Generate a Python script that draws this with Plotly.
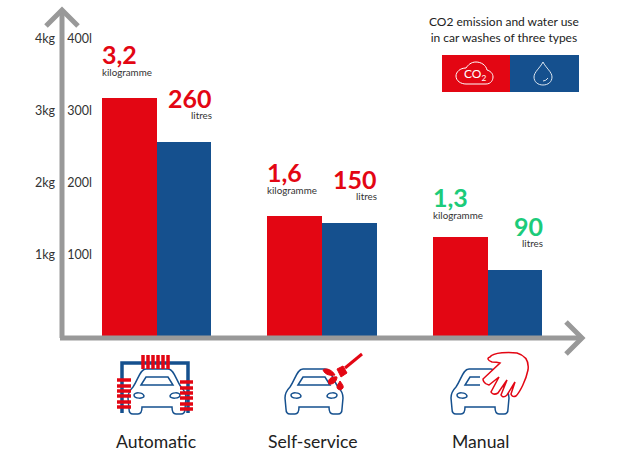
import re
import plotly.graph_objects as go

W, H = 617, 463

categories = ['Automatic', 'Self-service', 'Manual']
co2_values = [3.2, 1.62, 1.33]
water_values = [261, 152, 89]
co2_labels = ['3,2', '1,6', '1,3']
water_labels = ['260', '150', '90']
label_colors = ['#E30613', '#E30613', '#1CCB7A']

kg_tickvals = [1.09, 2.06, 3.03, 4.0]
kg_ticktext = ['1kg', '2kg', '3kg', '4kg']
l_tickvals = [109, 206, 303, 400]
l_ticktext = ['100l', '200l', '300l', '400l']

RED = '#E30613'
BLUE = '#15508E'
GREY = '#999999'
TEXT = '#333333'
FONT = 'Lato'

BAR = 0.332


def px_path(path):
    # icon paths are written in pixels of the picture, turn them into paper coords
    nums = iter(re.findall(r'-?\d+\.?\d*|[A-Za-z]', path))
    out = []
    for tok in nums:
        if tok.isalpha():
            out.append(tok)
        else:
            out.append('%.5f,%.5f' % (float(tok) / W, 1 - float(next(nums)) / H))
    return ' '.join(out)


def icon(path, color, width=1.5, fill=None):
    return dict(type='path', xref='paper', yref='paper', layer='above', path=px_path(path),
                line=dict(color=color, width=width),
                fillcolor=fill if fill else 'rgba(0,0,0,0)')


def car_paths(c):
    # car seen from the front, c is the middle of it in pixels
    body = (f'M {c-11} 369 L {c+11} 369 C {c+17} 369 {c+19} 380 {c+24} 387 '
            f'C {c+28} 391 {c+29} 394 {c+29} 398 L {c+28} 409 C {c+28} 413 {c+26} 414 {c+24} 414 '
            f'L {c+19} 414 C {c+16} 414 {c+15} 412 {c+15} 407 L {c-15} 407 '
            f'C {c-15} 412 {c-16} 414 {c-19} 414 L {c-24} 414 C {c-26} 414 {c-28} 413 {c-28} 409 '
            f'L {c-29} 398 C {c-29} 394 {c-28} 391 {c-24} 387 C {c-19} 380 {c-17} 369 {c-11} 369 Z')
    shield = f'M {c-16} 385 L {c-11} 377 L {c+11} 377 L {c+16} 385 Z'
    lamp_l = (f'M {c-23} 395 C {c-23} 392 {c-14} 392 {c-13} 396 '
              f'C {c-13} 399 {c-23} 399 {c-23} 395 Z')
    lamp_r = (f'M {c+23} 395 C {c+23} 392 {c+14} 392 {c+13} 396 '
              f'C {c+13} 399 {c+23} 399 {c+23} 395 Z')
    return [body, shield, lamp_l, lamp_r]


shapes = []

# axes with arrow heads
shapes.append(icon('M 62 12 L 62 338', GREY, 5))
shapes.append(icon('M 46 26 L 62 10 L 78 26', GREY, 5))
shapes.append(icon('M 60 338 L 582 338', GREY, 5))
shapes.append(icon('M 566 322 L 582 338 L 566 354', GREY, 5))

# legend box
shapes.append(dict(type='rect', xref='paper', yref='paper', x0=442 / W, x1=510 / W,
                   y0=1 - 92 / H, y1=1 - 55 / H, fillcolor=RED, line=dict(width=0)))
shapes.append(dict(type='rect', xref='paper', yref='paper', x0=510 / W, x1=579 / W,
                   y0=1 - 92 / H, y1=1 - 55 / H, fillcolor=BLUE, line=dict(width=0)))
shapes.append(icon('M 466 84 L 486 84 C 491 84 493 80 493 77 C 493 73 490 71 487 70 '
                   'C 486 65 481 62 476 62 C 471 62 468 65 466 68 C 460 68 456 72 456 76 '
                   'C 456 81 461 84 466 84 Z', 'white', 1))
shapes.append(icon('M 543 62 C 540 68 534 72 534 77 C 534 82 538 85 543 85 '
                   'C 548 85 552 82 552 77 C 552 72 546 68 543 62 Z', '#DCE6F0', 1))
shapes.append(icon('M 543 81 Q 546 81 548 78', '#DCE6F0', 1))

# automatic wash
for p in car_paths(157):
    shapes.append(icon(p, BLUE, 1.5))
shapes.append(icon('M 122 413 L 122 363 L 188 363 L 188 413', BLUE, 3.5))
for x in [143, 148, 153, 158, 163, 168]:
    shapes.append(icon(f'M {x} 355 L {x} 369', RED, 3.5))
for y in [380, 386, 391, 396, 402, 407]:
    shapes.append(icon(f'M 117 {y} L 131 {y}', RED, 3.5))
for y in [382, 388, 393, 398, 404, 409]:
    shapes.append(icon(f'M 180 {y} L 193 {y}', RED, 3.5))

# self-service wash
for p in car_paths(314):
    shapes.append(icon(p, BLUE, 1.5))
shapes.append(icon('M 362 354 L 345 368', RED, 3))
shapes.append(icon('M 337 369 L 343 366 L 347 373 L 341 377 Z', RED, 1, RED))
shapes.append(icon('M 323 370 C 327 367 333 371 335 375 C 331 376 325 375 323 370 Z', RED, 1, RED))
shapes.append(icon('M 337 377 C 337 382 332 385 329 384 C 327 380 331 376 337 377 Z', RED, 1, RED))
shapes.append(icon('M 340 381 C 342 384 344 386 343 388 C 341 391 337 390 337 387 C 337 385 339 383 340 381 Z',
                   RED, 1, RED))

# manual wash
for p in car_paths(480)[:1] + car_paths(480)[2:3]:
    shapes.append(icon(p, BLUE, 1.5))
shapes.append(icon('M 480 377 L 470 377 L 465 385 L 480 385', BLUE, 1.5))
shapes.append(icon('M 490 357 C 493 352 510 352 517 353 C 527 356 529 363 528 370 '
                   'C 526 380 520 392 516 396 C 512 398 511 394 511 394 L 515 382 L 507 395 '
                   'C 503 399 501 395 501 395 L 507 380 L 498 393 C 493 396 491 392 491 392 '
                   'L 499 377 L 489 385 C 483 384 483 379 483 379 L 500 363 C 497 362 493 362 492 362 '
                   'C 487 360 487 358 490 357 Z', RED, 1.5, 'white'))

fig = go.Figure()

fig.add_trace(go.Bar(x=categories, y=co2_values, name='CO2', yaxis='y',
                     width=BAR, offset=-BAR, marker=dict(color=RED, line=dict(width=0))))
fig.add_trace(go.Bar(x=categories, y=water_values, name='Water', yaxis='y2',
                     width=BAR, offset=0, marker=dict(color=BLUE, line=dict(width=0))))

annotations = []


def note(text, size, color, **kw):
    annotations.append(dict(text=text, showarrow=False, font=dict(family=FONT, size=size, color=color), **kw))


for i, cat in enumerate(categories):
    lift = [0, 0, -4][i]
    note('<b>%s</b>' % co2_labels[i], 25, label_colors[i], x=cat, y=co2_values[i], yref='y', xref='x',
         xanchor='left', yanchor='middle', xshift=-57, yshift=44 + lift)
    note('kilogramme', 9.8, TEXT, x=cat, y=co2_values[i], yref='y', xref='x',
         xanchor='left', yanchor='middle', xshift=-57, yshift=26 + lift)
    note('<b>%s</b>' % water_labels[i], 25, label_colors[i], x=cat, y=water_values[i], yref='y2', xref='x',
         xanchor='right', yanchor='middle', xshift=57, yshift=44)
    note('litres', 9.8, TEXT, x=cat, y=water_values[i], yref='y2', xref='x',
         xanchor='right', yanchor='middle', xshift=57, yshift=27)
    note(cat, 17.6, '#222222', x=cat, xref='x', xshift=[-1, -9, -7][i],
         y=1 - 441 / H, yref='paper', xanchor='center', yanchor='middle')

note('CO2 emission and water use<br>in car washes of three types', 12, '#222222',
     x=504 / W, y=1 - 29 / H, xref='paper', yref='paper', xanchor='center', yanchor='middle', align='center')
note('CO<sub>2</sub>', 12, 'white', x=475 / W, y=1 - 75 / H, xref='paper', yref='paper',
     xanchor='center', yanchor='middle')

tickfont = dict(family=FONT, size=12.5, color=TEXT)

fig.update_layout(
    width=W,
    height=H,
    autosize=False,
    margin=dict(l=0, r=0, t=0, b=0, pad=0),
    plot_bgcolor='white',
    paper_bgcolor='white',
    showlegend=False,
    barmode='overlay',
    bargap=0,
    shapes=shapes,
    annotations=annotations,
    xaxis=dict(domain=[0, 1], range=[-156.5 / 165.5, (W - 156.5) / 165.5], type='category',
               categoryorder='array', categoryarray=categories,
               showgrid=False, zeroline=False, showline=False, showticklabels=False, ticks=''),
    yaxis=dict(domain=[1 - 336 / H, 1], range=[0, 336 / 74.3], anchor='free', position=55 / W, side='left',
               tickvals=kg_tickvals, ticktext=kg_ticktext, tickfont=tickfont,
               showgrid=False, zeroline=False, showline=False, ticks=''),
    yaxis2=dict(domain=[1 - 336 / H, 1], range=[0, 33600 / 74.3], anchor='free', position=92 / W, side='left',
                overlaying='y', tickvals=l_tickvals, ticktext=l_ticktext, tickfont=tickfont,
                showgrid=False, zeroline=False, showline=False, ticks=''),
)

# page margin would push the whole figure off by 8px
fig.write_html("out.html", config=dict(displayModeBar=False),
               post_script="document.body.style.margin='0';document.body.style.overflow='hidden';")
